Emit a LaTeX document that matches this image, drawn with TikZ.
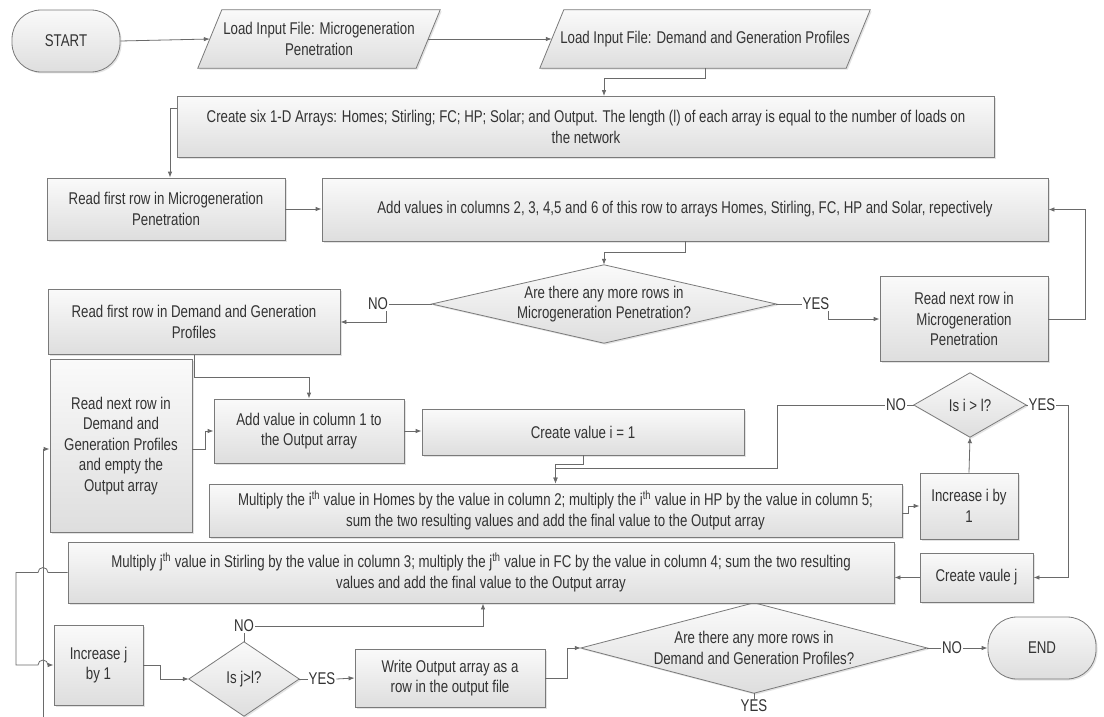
\documentclass[tikz,border=0pt]{standalone}
\usepackage{fontspec}
\setmainfont{Liberation Sans}[FakeStretch=0.78]
\usetikzlibrary{shapes.geometric,arrows.meta,shadows,backgrounds}
\definecolor{edge}{HTML}{7A7A7A}
\definecolor{txt}{HTML}{333333}
\definecolor{ln}{HTML}{6A6A6A}
\tikzset{
  fnt/.style={font=\fontsize{17}{20.5}\selectfont, text=txt},
  sz/.style 2 args={minimum width=#1pt, minimum height=#2pt},
  shd/.style={top color=white!98!black, bottom color=white!87!black},
  sh/.style={drop shadow={shadow xshift=1.5pt, shadow yshift=-1.5pt, opacity=0.22}},
  base/.style={fnt, draw=edge, line width=0.8pt, shd, sh, align=center, inner sep=2pt},
  box/.style={base, rectangle},
  term/.style={base, rectangle, rounded corners=29pt},
  dec/.style={fnt, rectangle, align=center, inner sep=0pt},
  io/.style={fnt, rectangle, align=center, inner sep=2pt},
  outline/.style={draw=edge, line width=0.8pt, shd, sh},
  lbl/.style={fnt, inner sep=1pt},
  line/.style={draw=ln, line width=0.8pt},
  arr/.style={line, -{Latex[length=6pt,width=4.5pt]}}
}
\begin{document}
\begin{tikzpicture}[x=1pt,y=-1pt]
\begin{scope}[on background layer]
\fill[white] (0,0) rectangle (1104,717);
\end{scope}
\useasboundingbox (0,0) rectangle (1104,717);

% nodes
\node[term, sz={108}{62}] (start) at (66,41) {START};
\node[io, sz={218}{58}] (p1) at (319,39) {Load Input File: Microgeneration\\Penetration};
\node[io, sz={306}{58}] (p2) at (705,39) {Load Input File: Demand and Generation Profiles};
\node[box, sz={817}{61}] (create) at (586,127) {Create six 1-D Arrays: Homes; Stirling; FC; HP; Solar; and Output. The length (l) of each array is equal to the number of loads on\\the network};
\node[box, sz={238}{62}] (read1) at (166,209) {Read first row in Microgeneration\\Penetration};
\node[box, sz={726}{63}] (add) at (685,209.5) {Add values in columns 2, 3, 4,5 and 6 of this row to arrays Homes, Stirling, FC, HP and Solar, repectively};
\node[dec, sz={344}{78}] (d1) at (604,304) {Are there any more rows in\\Microgeneration Penetration?};
\node[box, sz={292}{65}] (readD) at (194,322) {Read first row in Demand and Generation\\Profiles};
\node[box, sz={168}{85}] (readM) at (964,319) {Read next row in\\Microgeneration\\Penetration};
\node[box, sz={142}{173}] (readND) at (121,446) {Read next row in\\Demand and\\Generation Profiles\\and empty the\\Output array};
\node[box, sz={190}{64}] (addC1) at (309,431) {Add value in column 1 to\\the Output array};
\node[box, sz={322}{46}] (createI) at (583,432) {Create value i = 1};
\node[box, sz={693}{53}] (multI) at (555.5,510.5) {Multiply the i\textsuperscript{th} value in Homes by the value in column 2; multiply the i\textsuperscript{th} value in HP by the value in column 5;\\sum the two resulting values and add the final value to the Output array};
\node[dec, sz={112}{64}] (di) at (970,405) {Is i > l?};
\node[box, sz={98}{66}] (incI) at (969,506) {Increase i by\\1};
\node[box, sz={113}{49}] (createJ) at (976.5,577.5) {Create vaule j};
\node[box, sz={826}{61}] (multJ) at (481,572.5) {Multiply j\textsuperscript{th} value in Stirling by the value in column 3; multiply the j\textsuperscript{th} value in FC by the value in column 4; sum the two resulting\\values and add the final value to the Output array};
\node[box, sz={89}{80}] (incJ) at (98.5,665) {Increase j\\by 1};
\node[dec, sz={110}{74}] (dj) at (244,679) {Is j>l?};
\node[box, sz={190}{58}] (write) at (450,678) {Write Output array as a\\row in the output file};
\node[dec, sz={346}{90}] (d3) at (754,648) {Are there any more rows in\\Demand and Generation Profiles?};
\node[term, sz={108}{62}] (end) at (1042,648) {END};

% parallelograms and diamonds behind their texts
\begin{scope}[on background layer]
\foreach \n in {p1,p2}{
  \path[outline] ([xshift=-12pt]\n.south west) -- ([xshift=12pt]\n.north west) -- ([xshift=12pt]\n.north east) -- ([xshift=-12pt]\n.south east) -- cycle;
}
\foreach \n in {d1,di,dj,d3}{
  \path[outline] (\n.west) -- (\n.north) -- (\n.east) -- (\n.south) -- cycle;
}
\end{scope}

% labels
\node[lbl] (no1) at (378,304) {NO};
\node[lbl] (yes1) at (816,304) {YES};
\node[lbl] (noI) at (896,405) {NO};
\node[lbl] (yesI) at (1042,405) {YES};
\node[lbl] (no2) at (244,626) {NO};
\node[lbl] (yesJ) at (322,679) {YES};
\node[lbl] (no3) at (952,648) {NO};
\node[lbl] (yes3) at (754,706) {YES};

\coordinate (j1) at (604,78);
\coordinate (bot) at (43,717);

% connectors
\draw[arr] (start.east) -- (p1.west);
\draw[arr] (p1.east) -- (p2.west);
\draw[arr] (p2.south) |- (j1) -- (create.north -| j1);
\draw[arr] (create.west |- 0,108) -| (read1.north -| 170,0);
\draw[arr] (read1.east) -- (add.west |- read1.east);
\draw[arr] (add.south) -- ++(0,11) -| (d1.north);
\draw[line] (d1.west) -- (no1.east);
\draw[arr] ([xshift=-3pt]no1.south east) |- (readD.east);
\draw[line] (d1.east) -- (yes1.west);
\draw[arr] ([xshift=-2pt]yes1.south east) |- (readM.west);
\draw[arr] (readM.east) -- ++(37,0) |- (add.east);
\draw[arr] (readD.south) -- ++(0,22) -| (addC1.north);
\draw[arr] (readND.east |- 0,449) -- (205,449) |- (addC1.west);
\draw[arr] (addC1.east) -- (createI.west |- addC1.east);
\draw[arr] (createI.south) -- ++(0,9) -| (multI.north);
\draw[line] (di.west) -- (noI.east);
\draw[arr] (noI.west) -| (777,468) -| (multI.north);
\draw[arr] (multI.east |- 0,513) -- (908,513) |- (incI.west);
\draw[arr] (incI.north) -- (di.south);
\draw[line] (di.east) -- (yesI.west);
\draw[arr] (yesI.east) -- (1068,405) |- (createJ.east);
\draw[arr] (createJ.west) -- (multJ.east |- createJ.west);
\draw[arr] (multJ.west) -- (48,572.5) arc[start angle=0,end angle=180,radius=5pt] -- (16,572.5) -- (16,665) -- (38,665) arc[start angle=180,end angle=0,radius=5pt] -- (incJ.west);
\draw[arr] (incJ.east) -- (160,665) |- (dj.west);
\draw[line] (dj.north) -- (no2.south);
\draw[arr] (no2.east) -| (multJ.south -| 483,0);
\draw[line] (dj.east) -- (yesJ.west);
\draw[arr] (yesJ.east) -- (write.west);
\draw[arr] (write.east) -- (567,678) |- (d3.west);
\draw[line] (d3.east) -- (no3.west);
\draw[arr] (no3.east) -- (end.west);
\draw[line] (d3.south) -- (yes3.north);
\draw[arr] (bot) |- (readND.west |- 0,449);
\end{tikzpicture}
\end{document}
